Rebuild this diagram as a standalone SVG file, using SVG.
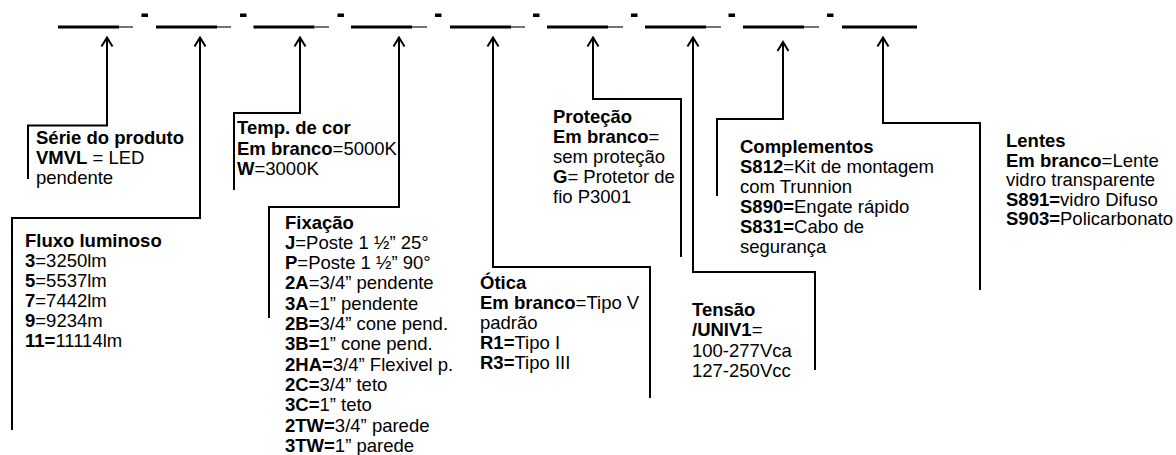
<svg xmlns="http://www.w3.org/2000/svg" width="1176" height="455" viewBox="0 0 1176 455">
<style>
text{font-family:"Liberation Sans",Arial,sans-serif;font-size:18.5px;fill:#000}
.b{font-weight:bold}
.bar{stroke:#000;stroke-width:3}
.tail{stroke:#444;stroke-width:1.5}
.dash{fill:#000}
.con{fill:none;stroke:#000;stroke-width:2;marker-start:url(#ah)}
</style>
<defs>
<marker id="ah" viewBox="-11 -7 13 14" refX="0" refY="0" markerWidth="13" markerHeight="14" markerUnits="userSpaceOnUse" orient="auto-start-reverse">
<path d="M-9,-5.5 L0,0 L-9,5.5" fill="none" stroke="#000" stroke-width="2"/>
</marker>
</defs>
<g id="code">
<line class="bar" x1="58" y1="27" x2="119" y2="27"/><line class="tail" x1="119" y1="27" x2="133" y2="27"/>
<line class="bar" x1="156" y1="27" x2="217" y2="27"/><line class="tail" x1="217" y1="27" x2="231" y2="27"/>
<line class="bar" x1="253.5" y1="27" x2="314.5" y2="27"/><line class="tail" x1="314.5" y1="27" x2="329" y2="27"/>
<line class="bar" x1="351" y1="27" x2="412" y2="27"/><line class="tail" x1="412" y1="27" x2="427" y2="27"/>
<line class="bar" x1="450" y1="27" x2="511" y2="27"/><line class="tail" x1="511" y1="27" x2="525" y2="27"/>
<line class="bar" x1="547" y1="27" x2="608" y2="27"/><line class="tail" x1="608" y1="27" x2="623" y2="27"/>
<line class="bar" x1="645" y1="27" x2="706" y2="27"/><line class="tail" x1="706" y1="27" x2="721" y2="27"/>
<line class="bar" x1="743" y1="27" x2="804" y2="27"/><line class="tail" x1="804" y1="27" x2="819" y2="27"/>
<line class="bar" x1="842" y1="27" x2="917" y2="27"/>
<rect class="dash" x="141.5" y="13.5" width="6.5" height="3.5"/>
<rect class="dash" x="240" y="13.5" width="6.5" height="3.5"/>
<rect class="dash" x="337.5" y="13.5" width="6.5" height="3.5"/>
<rect class="dash" x="435" y="13.5" width="6.5" height="3.5"/>
<rect class="dash" x="533" y="13.5" width="6.5" height="3.5"/>
<rect class="dash" x="631" y="13.5" width="6.5" height="3.5"/>
<rect class="dash" x="728.5" y="13.5" width="6.5" height="3.5"/>
<rect class="dash" x="827" y="13.5" width="6.5" height="3.5"/>
</g>
<g id="connectors">
<path class="con" d="M107,37.5 V125.5 H28 V179"/>
<path class="con" d="M200,37.5 V218 H12 V430"/>
<path class="con" d="M300,37.5 V113 H234 V190"/>
<path class="con" d="M399,37.5 V207 H269 V318"/>
<path class="con" d="M493,37.5 V267 H650 V398"/>
<path class="con" d="M593,37.5 V99 H681 V257"/>
<path class="con" d="M693,37.5 V272 H815 V370"/>
<path class="con" d="M783,42 V119 H717 V196"/>
<path class="con" d="M883,37.5 V123 H980 V290"/>
</g>
<g id="serie">
<text x="36" y="144" class="b">Série do produto</text>
<text x="36" y="164"><tspan class="b">VMVL</tspan> = LED</text>
<text x="36" y="184">pendente</text>
</g>
<g id="fluxo">
<text x="25" y="247" class="b">Fluxo luminoso</text>
<text x="25" y="267"><tspan class="b">3</tspan>=3250lm</text>
<text x="25" y="287"><tspan class="b">5</tspan>=5537lm</text>
<text x="25" y="307"><tspan class="b">7</tspan>=7442lm</text>
<text x="25" y="327"><tspan class="b">9</tspan>=9234m</text>
<text x="25" y="347"><tspan class="b">11=</tspan>11114lm</text>
</g>
<g id="temp">
<text x="237" y="134" class="b">Temp. de cor</text>
<text x="237" y="155"><tspan class="b">Em branco</tspan>=5000K</text>
<text x="237" y="175"><tspan class="b">W</tspan>=3000K</text>
</g>
<g id="fixacao">
<text x="285" y="228.5" class="b">Fixação</text>
<text x="285" y="248.8"><tspan class="b">J</tspan>=Poste 1 ½” 25°</text>
<text x="285" y="269.1"><tspan class="b">P</tspan>=Poste 1 ½” 90°</text>
<text x="285" y="289.4"><tspan class="b">2A</tspan>=3/4” pendente</text>
<text x="285" y="309.7"><tspan class="b">3A</tspan>=1” pendente</text>
<text x="285" y="330"><tspan class="b">2B=</tspan>3/4” cone pend.</text>
<text x="285" y="350.3"><tspan class="b">3B=</tspan>1” cone pend.</text>
<text x="285" y="370.6"><tspan class="b">2HA=</tspan>3/4” Flexivel p.</text>
<text x="285" y="390.9"><tspan class="b">2C=</tspan>3/4” teto</text>
<text x="285" y="411.2"><tspan class="b">3C=</tspan>1” teto</text>
<text x="285" y="431.5"><tspan class="b">2TW=</tspan>3/4” parede</text>
<text x="285" y="451.8"><tspan class="b">3TW=</tspan>1” parede</text>
</g>
<g id="otica">
<text x="480" y="289" class="b">Ótica</text>
<text x="480" y="309"><tspan class="b">Em branco</tspan>=Tipo V</text>
<text x="480" y="329">padrão</text>
<text x="480" y="349"><tspan class="b">R1=</tspan>Tipo I</text>
<text x="480" y="369"><tspan class="b">R3=</tspan>Tipo III</text>
</g>
<g id="protecao">
<text x="553" y="122.5" class="b">Proteção</text>
<text x="553" y="142.5"><tspan class="b">Em branco</tspan>=</text>
<text x="553" y="162.5">sem proteção</text>
<text x="553" y="182.5"><tspan class="b">G</tspan>= Protetor de</text>
<text x="553" y="202.5">fio P3001</text>
</g>
<g id="tensao">
<text x="692" y="315.5" class="b">Tensão</text>
<text x="692" y="336"><tspan class="b">/UNIV1</tspan>=</text>
<text x="692" y="356.5">100-277Vca</text>
<text x="692" y="377">127-250Vcc</text>
</g>
<g id="complementos">
<text x="740" y="153" class="b">Complementos</text>
<text x="740" y="173"><tspan class="b">S812</tspan>=Kit de montagem</text>
<text x="740" y="193">com Trunnion</text>
<text x="740" y="213"><tspan class="b">S890=</tspan>Engate rápido</text>
<text x="740" y="233"><tspan class="b">S831=</tspan>Cabo de</text>
<text x="740" y="253">segurança</text>
</g>
<g id="lentes">
<text x="1006" y="147" class="b">Lentes</text>
<text x="1006" y="166.5"><tspan class="b">Em branco</tspan>=Lente</text>
<text x="1006" y="186">vidro transparente</text>
<text x="1006" y="205.5"><tspan class="b">S891=</tspan>vidro Difuso</text>
<text x="1006" y="225"><tspan class="b">S903=</tspan>Policarbonato</text>
</g>
</svg>
